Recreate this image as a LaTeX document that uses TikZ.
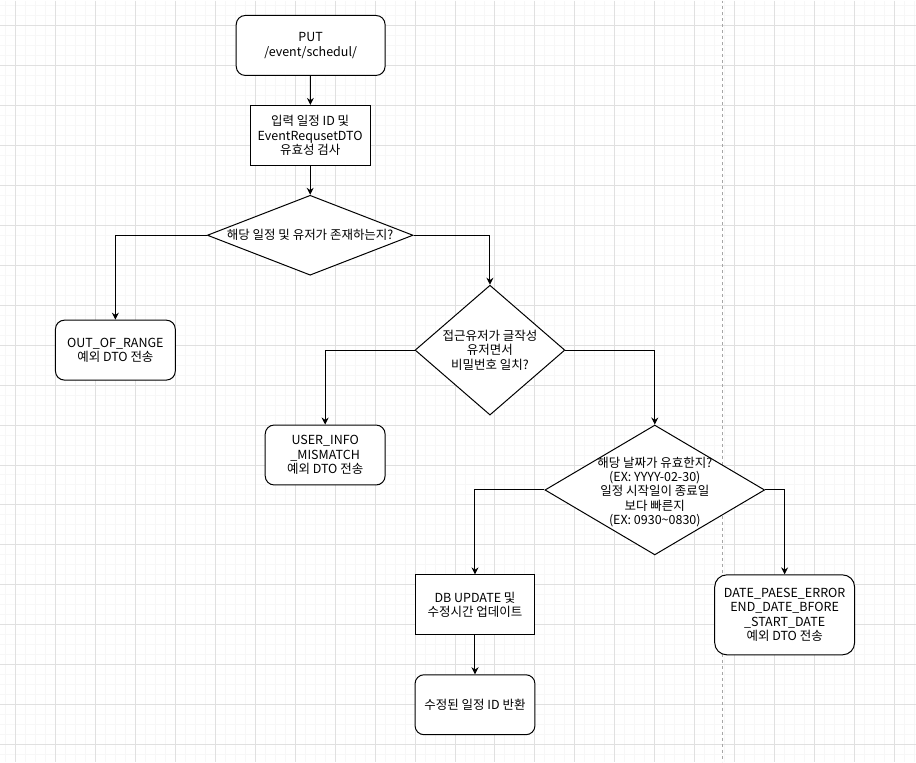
\documentclass[tikz,border=0pt]{standalone}
\usepackage{fontspec}
\setmainfont{Noto Sans CJK KR}
\usetikzlibrary{arrows.meta,shapes.geometric,positioning}

\begin{document}
\begin{tikzpicture}[x=1pt,y=-1pt,line width=1pt,
  every node/.style={font=\fontsize{12.5}{14.4}\selectfont},
  terminal/.style={draw,fill=white,rounded corners=9pt,minimum width=120pt,minimum height=60pt,align=center,inner sep=0pt},
  process/.style={draw,fill=white,minimum width=120pt,minimum height=60pt,align=center,inner sep=0pt},
  decision/.style={draw,fill=white,diamond,inner sep=0pt},
  flow/.style={-{Stealth[length=7pt,width=7pt]}}]
\colorlet{minorgrid}{black!3} \colorlet{majorgrid}{black!12}
% background grid
\fill[white] (0,0) rectangle (916,762);
\foreach \x in {5,15,...,915} \draw[minorgrid] (\x,0) -- (\x,762);
\foreach \y in {5,15,...,755} \draw[minorgrid] (0,\y) -- (916,\y);
\foreach \x in {15,55,...,895} \draw[majorgrid] (\x,0) -- (\x,762);
\foreach \y in {25,65,...,745} \draw[majorgrid] (0,\y) -- (916,\y);
\draw[black!35,dash pattern=on 3pt off 3pt] (722.5,0) -- (722.5,762);
\useasboundingbox (0,0) rectangle (916,762);

% nodes
\node[terminal,minimum width=149pt] (put) at (310.5,45) {PUT\\/event/schedul/};
\node[process] (valid) at (310,135) {입력 일정 ID 및\\EventRequsetDTO\\유효성 검사};
\node[decision,minimum width=206pt,minimum height=80pt] (exist) at (310,235) {};
\node (exist-t) at (exist) {해당 일정 및 유저가 존재하는지?};
\node[terminal] (range) at (115,350) {OUT\_OF\_RANGE\\예외 DTO 전송};
\node[decision,minimum width=150pt,minimum height=130pt] (auth) at (490,350) {};
\node[align=center] (auth-t) at (auth) {접근유저가 글작성\\유저면서\\비밀번호 일치?};
\node[terminal] (mismatch) at (325,455) {USER\_INFO\\\_MISMATCH\\예외 DTO 전송};
\node[decision,minimum width=220pt,minimum height=130pt] (date) at (655,490) {};
\node[align=center] (date-t) at ([yshift=-2pt]date) {해당 날짜가 유효한지?\\(EX: YYYY-02-30)\\일정 시작일이 종료일\\보다 빠른지\\(EX: 0930\textasciitilde0830)};
\node[process] (update) at (475,605) {DB UPDATE 및\\수정시간 업데이트};
\node[terminal] (done) at (475,705) {수정된 일정 ID 반환};
\node[terminal,minimum width=140pt,minimum height=80pt,rounded corners=12pt] (dateerr) at (785,615)
  {DATE\_PAESE\_ERROR\\END\_DATE\_BFORE\\\_START\_DATE\\예외 DTO 전송};

% connectors
\draw[flow] (put) -- (valid);
\draw[flow] (valid) -- (exist);
\draw[flow] (exist.west) -| (range.north);
\draw[flow] (exist.east) -| (auth.north);
\draw[flow] (auth.west) -| (mismatch.north);
\draw[flow] (auth.east) -| (date.north);
\draw[flow] (date.west) -| (update.north);
\draw[flow] (date.east) -| (dateerr.north);
\draw[flow] (update) -- (done);
\end{tikzpicture}
\end{document}
